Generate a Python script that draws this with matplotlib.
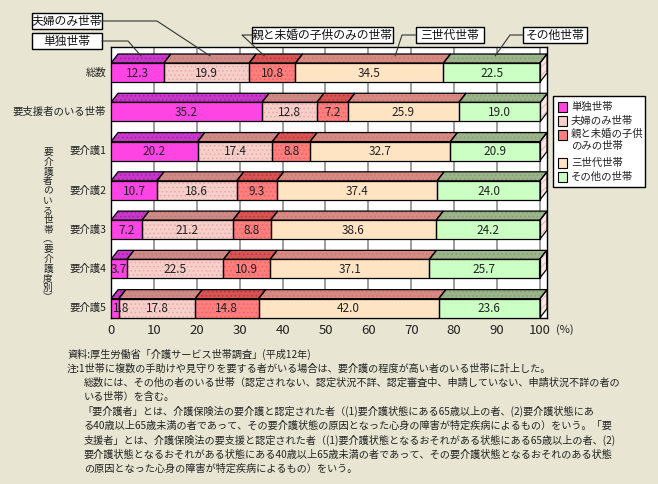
import matplotlib
matplotlib.use("Agg")
import matplotlib.pyplot as plt
from matplotlib.patches import Polygon, Rectangle

plt.rcParams["font.family"] = ["Noto Sans CJK JP", "DejaVu Sans"]
plt.rcParams["hatch.linewidth"] = 0.6

# data
categories = ["総数", "要支援者のいる世帯", "要介護1", "要介護2", "要介護3", "要介護4", "要介護5"]
series_names = ["単独世帯", "夫婦のみ世帯", "親と未婚の子供のみの世帯", "三世代世帯", "その他世帯"]
legend_names = ["単独世帯", "夫婦のみ世帯", "親と未婚の子供\nのみの世帯", "三世代世帯", "その他の世帯"]
tandoku = [12.3, 35.2, 20.2, 10.7, 7.2, 3.7, 1.8]
fufu = [19.9, 12.8, 17.4, 18.6, 21.2, 22.5, 17.8]
oya_ko = [10.8, 7.2, 8.8, 9.3, 8.8, 10.9, 14.8]
sansedai = [34.5, 25.9, 32.7, 37.4, 38.6, 37.1, 42.0]
sonota = [22.5, 19.0, 20.9, 24.0, 24.2, 25.7, 23.6]
xticks = [0, 10, 20, 30, 40, 50, 60, 70, 80, 90, 100]

series = [tandoku, fufu, oya_ko, sansedai, sonota]

# styles
front_col = ["#ff44e4", "#f6cfca", "#ff7f7f", "#ffe4c4", "#ccffc4"]
front_hatch = [None, "#e8a8a4", "#f06060", None, None]
top_col = ["#c838c8", "#d08a86", "#d85454", "#d88a82", "#9cb48a"]
top_hatch = ["#a020a8", "#c07878", "#b83838", "#c87870", "#80a070"]
BG = "#e8e6d2"

W, H = 658, 484
fig = plt.figure(figsize=(W / 100, H / 100), dpi=100)
fig.patch.set_facecolor(BG)

# main plot area (pixels: left 111, right 547, top 47, bottom 318)
ax = fig.add_axes([111 / W, (H - 318) / H, 436 / W, 271 / H])
ax.set_facecolor("white")
dx = 1.64      # depth offset in x units
dy = 0.23      # depth offset in y units
h = 0.484      # front face height
ax.set_xlim(0, 100 + dx)
ax.set_ylim(6.25, -0.65)

for gx in xticks[1:]:
    ax.axvline(gx, color="#8c8c8c", lw=1.2, zorder=1)

for i in range(len(categories)):
    left = 0.0
    yt = i - h / 2
    for k, vals in enumerate(series):
        v = vals[i]
        # front face
        if front_hatch[k]:
            ax.barh(i, v, left=left, height=h, color=front_col[k],
                    edgecolor=front_hatch[k], hatch="....", lw=0, zorder=3)
        else:
            ax.barh(i, v, left=left, height=h, color=front_col[k], lw=0, zorder=3)
        ax.barh(i, v, left=left, height=h, fill=False, edgecolor="black", lw=0.9, zorder=4)
        # top face
        pts = [(left, yt), (left + v, yt), (left + v + dx, yt - dy), (left + dx, yt - dy)]
        ax.add_patch(Polygon(pts, closed=True, facecolor=top_col[k], edgecolor=top_hatch[k],
                             hatch="....", lw=0, zorder=3))
        ax.add_patch(Polygon(pts, closed=True, fill=False, edgecolor="black", lw=0.9, zorder=4))
        # value label
        if v < 3:
            ax.text(left + 0.4, i + 0.02, f"{v:.1f}", ha="left", va="center",
                    fontsize=8.5, color="#222222", zorder=5)
        else:
            ax.text(left + v / 2, i + 0.02, f"{v:.1f}", ha="center", va="center",
                    fontsize=8.5, color="#222222", zorder=5)
        left += v
    # right side face
    side = [(left, yt), (left, i + h / 2), (left + dx, i + h / 2 - dy), (left + dx, yt - dy)]
    ax.add_patch(Polygon(side, closed=True, facecolor="#fbe6e4", edgecolor="#e0b0b0",
                         hatch="////", lw=0, zorder=3))
    ax.add_patch(Polygon(side, closed=True, fill=False, edgecolor="black", lw=0.9, zorder=4))

ax.set_yticks([])
ax.set_xticks(xticks)
ax.set_xticklabels([str(t) for t in xticks], fontsize=9.5, color="#222222")
ax.tick_params(axis="x", length=0, pad=4)
for sp in ax.spines.values():
    sp.set_color("black")
    sp.set_linewidth(1.0)

# overlay in pixel coordinates
ov = fig.add_axes([0, 0, 1, 1], zorder=10)
ov.set_xlim(0, W)
ov.set_ylim(H, 0)
ov.axis("off")
ov.patch.set_alpha(0)


def to_px(x, y):
    return ov.transData.inverted().transform(ax.transData.transform((x, y)))


# category labels
for i, c in enumerate(categories):
    px, py = to_px(0, i)
    ov.text(px - 5, py, c, ha="right", va="center", fontsize=7.5, color="#222222")

# vertical group label
vlabel = "要介護者のいる世帯︵要介護度別︶"
for j, ch in enumerate(vlabel):
    ov.text(48, 152 + j * 9.7, ch, ha="center", va="center", fontsize=7, color="#222222")

ov.text(556, 330, "(%)", ha="left", va="center", fontsize=8, color="#222222")

# callouts: box (x0, x1, y0, y1), elbow point, fraction along segment
callouts = [
    (0, (32, 102, 33, 49), (128, 41), 0.5),
    (1, (32, 102, 13, 29), (157, 21), 0.5),
    (2, (252, 393, 27, 43), (242, 35), 0.25),
    (3, (416, 484, 27, 43), (402, 35), 0.65),
    (4, (523, 587, 27, 43), (510, 35), 0.5),
]
starts = [0.0]
for vals in series[:-1]:
    starts.append(starts[-1] + vals[0])
for k, (x0, x1, y0, y1), (ex, ey), frac in callouts:
    ov.add_patch(Rectangle((x0, y0), x1 - x0, y1 - y0, facecolor="white",
                           edgecolor="black", lw=1.0))
    ov.text((x0 + x1) / 2, (y0 + y1) / 2, series_names[k], ha="center", va="center",
            fontsize=8.5, color="#111111")
    tx, ty = to_px(starts[k] + series[k][0] * frac + dx * 0.5, -h / 2 - dy * 0.8)
    sx = x1 if ex > x1 else x0
    ov.plot([sx, ex, tx], [ey, ey, ty], color="#333333", lw=0.8)

# legend
ov.add_patch(Rectangle((553, 96), 92, 91, facecolor="white", edgecolor="black", lw=1.0))
leg_y = [107, 121, 135, 163, 177]
for k, name in enumerate(legend_names):
    ov.add_patch(Rectangle((558, leg_y[k] - 5), 9, 10, facecolor=front_col[k],
                           edgecolor="black", lw=0.8))
    ov.text(571, leg_y[k] - 6 if "\n" in name else leg_y[k], name, ha="left",
            va="top" if "\n" in name else "center",
            fontsize=7.5, color="#222222", linespacing=1.2)

# notes
notes = [
    (67, "資料:厚生労働省「介護サービス世帯調査」(平成12年)"),
    (67, "注:1世帯に複数の手助けや見守りを要する者がいる場合は、要介護の程度が高い者のいる世帯に計上した。"),
    (84, "総数には、その他の者のいる世帯（認定されない、認定状況不詳、認定審査中、申請していない、申請状況不詳の者の"),
    (84, "いる世帯）を含む。"),
    (82, "「要介護者」とは、介護保険法の要介護と認定された者（(1)要介護状態にある65歳以上の者、(2)要介護状態にあ"),
    (84, "る40歳以上65歳未満の者であって、その要介護状態の原因となった心身の障害が特定疾病によるもの）をいう。「要"),
    (84, "支援者」とは、介護保険法の要支援と認定された者（(1)要介護状態となるおそれがある状態にある65歳以上の者、(2)"),
    (84, "要介護状態となるおそれがある状態にある40歳以上65歳未満の者であって、その要介護状態となるおそれのある状態"),
    (84, "の原因となった心身の障害が特定疾病によるもの）をいう。"),
]
for j, (nx, line) in enumerate(notes):
    ov.text(nx, 354 + j * 14.4, line, ha="left", va="center", fontsize=7.3, color="#222222")

fig.savefig("out.png", dpi=100, facecolor=fig.get_facecolor())
